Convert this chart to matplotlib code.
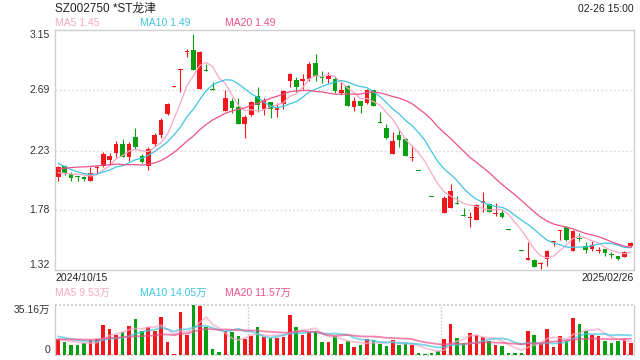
import matplotlib
matplotlib.use("Agg")
import matplotlib.pyplot as plt
import matplotlib.transforms as mtransforms
import numpy as np

plt.rcParams['font.family'] = ['Liberation Sans', 'Noto Sans CJK SC', 'DejaVu Sans']

title = "SZ002750 *ST龙津"
stamp = "02-26 15:00"
first_date = "2024/10/15"
last_date = "2025/02/26"
price_ticks = [3.15, 2.69, 2.23, 1.78, 1.32]
price_labels = ["3.15", "2.69", "2.23", "1.78", "1.32"]
vol_max = 35.16
vol_labels = ["35.16万", "0"]
ma_labels = ["MA5 1.45", "MA10 1.49", "MA20 1.49"]
vol_ma_labels = ["MA5 9.53万", "MA10 14.05万", "MA20 11.57万"]

# daily candles, 2024/10/15 .. 2025/02/26
opens = [2.032, 2.113, 2.049, 2.039, 2.027, 2.001, 2.095, 2.113, 2.159, 2.215,
         2.278, 2.182, 2.332, 2.189, 2.116, 2.278, 2.349, 2.507, 2.718, 2.846,
         2.985, 2.998, 2.702, 2.840, 2.700, 2.562, 2.532, 2.609, 2.560, 2.436,
         2.504, 2.644, 2.548, 2.601, 2.543, 2.583, 2.761, 2.766, 2.764, 2.779,
         2.898, 2.792, 2.776, 2.774, 2.667, 2.723, 2.565, 2.609, 2.596, 2.693,
         2.445, 2.403, 2.207, 2.349, 2.316, 2.177, 2.078, 1.974, 1.877, 1.784,
         1.757, 1.795, 1.830, 1.740, 1.719, 1.701, 1.833, 1.826, 1.750, 1.757,
         1.630, 1.548, 1.470, 1.397, 1.400, 1.362, 1.404, 1.531, 1.618, 1.650,
         1.467, 1.558, 1.503, 1.478, 1.465, 1.478, 1.437, 1.427, 1.417, 1.505]
highs = [2.113, 2.121, 2.070, 2.039, 2.037, 2.108, 2.121, 2.217, 2.210, 2.304,
         2.319, 2.299, 2.400, 2.205, 2.255, 2.362, 2.479, 2.593, 2.726, 2.853,
         3.003, 3.120, 2.990, 2.891, 2.756, 2.562, 2.693, 2.631, 2.629, 2.499,
         2.609, 2.718, 2.629, 2.601, 2.591, 2.693, 2.825, 2.789, 2.812, 2.903,
         2.967, 2.840, 2.827, 2.794, 2.756, 2.731, 2.642, 2.609, 2.700, 2.693,
         2.527, 2.431, 2.375, 2.395, 2.324, 2.273, 2.078, 1.974, 1.877, 1.784,
         1.884, 1.973, 1.887, 1.790, 1.760, 1.823, 1.912, 1.833, 1.833, 1.783,
         1.630, 1.548, 1.470, 1.536, 1.405, 1.380, 1.473, 1.540, 1.626, 1.655,
         1.625, 1.600, 1.536, 1.544, 1.493, 1.483, 1.455, 1.427, 1.467, 1.533]
lows = [2.001, 2.044, 2.001, 2.001, 2.001, 2.001, 2.052, 2.103, 2.128, 2.182,
        2.179, 2.154, 2.240, 2.138, 2.083, 2.268, 2.324, 2.499, 2.714, 2.680,
        2.942, 2.844, 2.702, 2.837, 2.695, 2.560, 2.532, 2.515, 2.431, 2.324,
        2.494, 2.522, 2.502, 2.482, 2.489, 2.550, 2.713, 2.680, 2.698, 2.764,
        2.761, 2.748, 2.743, 2.667, 2.662, 2.570, 2.532, 2.515, 2.586, 2.573,
        2.444, 2.321, 2.202, 2.260, 2.192, 2.154, 2.076, 1.972, 1.875, 1.782,
        1.757, 1.795, 1.826, 1.735, 1.650, 1.701, 1.765, 1.765, 1.734, 1.714,
        1.628, 1.546, 1.468, 1.397, 1.340, 1.330, 1.350, 1.503, 1.549, 1.544,
        1.467, 1.544, 1.452, 1.467, 1.452, 1.427, 1.411, 1.399, 1.417, 1.498]
closes = [2.103, 2.057, 2.019, 2.032, 2.011, 2.062, 2.108, 2.202, 2.189, 2.278,
          2.184, 2.281, 2.260, 2.146, 2.243, 2.347, 2.464, 2.586, 2.723, 2.853,
          2.993, 2.844, 2.986, 2.837, 2.695, 2.560, 2.631, 2.555, 2.436, 2.487,
          2.601, 2.576, 2.614, 2.545, 2.558, 2.685, 2.817, 2.715, 2.776, 2.893,
          2.802, 2.787, 2.799, 2.685, 2.693, 2.570, 2.609, 2.573, 2.693, 2.573,
          2.444, 2.329, 2.304, 2.311, 2.192, 2.185, 2.076, 1.972, 1.875, 1.782,
          1.871, 1.922, 1.826, 1.735, 1.724, 1.816, 1.846, 1.765, 1.755, 1.722,
          1.628, 1.546, 1.468, 1.410, 1.345, 1.372, 1.467, 1.539, 1.625, 1.549,
          1.617, 1.556, 1.472, 1.511, 1.473, 1.452, 1.434, 1.401, 1.460, 1.528]
# volume, 万手
volumes = [11.1, 9.3, 6.9, 6.9, 8.1, 10.4, 11.1, 20.8, 18.0, 13.9,
           16.2, 20.1, 25.0, 16.7, 19.7, 16.7, 26.4, 9.3, 0.7, 30.5,
           13.9, 35.16, 34.2, 19.4, 4.2, 2.3, 16.7, 16.2, 13.2, 11.1,
           13.2, 19.4, 12.7, 12.0, 12.3, 12.5, 27.8, 19.4, 13.9, 16.2,
           16.7, 9.3, 9.3, 13.2, 7.6, 10.0, 5.6, 6.9, 11.1, 10.4,
           7.9, 6.5, 10.4, 6.9, 8.1, 6.9, 1.4, 0.7, 1.4, 2.8,
           11.1, 21.5, 11.8, 8.1, 15.3, 13.9, 13.0, 9.7, 6.9, 6.2,
           1.4, 1.4, 1.4, 16.7, 13.9, 8.1, 18.0, 5.6, 13.2, 9.7,
           25.7, 21.5, 16.9, 13.9, 13.2, 10.0, 8.3, 9.7, 11.1, 8.3]
# sessions before the window, needed for the moving averages
pre_close = [1.90, 1.92, 1.95, 1.98, 2.00, 2.03, 2.08, 2.12, 2.18, 2.27,
             2.30, 2.25, 2.20, 2.15, 2.12, 2.08, 2.05, 2.04, 2.037]
pre_vol = [8, 9, 7, 10, 12, 9, 8, 10, 8, 9,
           18, 16, 15, 14, 12, 12, 11, 10, 11]

RED = '#f2171b'
GREEN = '#0a9e12'
MA_COLORS = ['#f7a8c6', '#3fc5e2', '#ec5288']
GRID = '#dedede'
FRAME = '#cfcfcf'


def moving_avg(pre, vals, n):
    full = np.array(pre + vals, dtype=float)
    out = np.convolve(full, np.ones(n) / n, mode='valid')
    return out[-len(vals):]


n = len(closes)
x = np.arange(n)
o = np.array(opens)
c = np.array(closes)
up = c >= o
colors = [RED if u else GREEN for u in up]

W, H = 640, 360
fig = plt.figure(figsize=(W / 100, H / 100), dpi=100)
ax = fig.add_axes([55 / W, 1 - 270 / H, 579 / W, 240 / H])
axv = fig.add_axes([55 / W, 1 - 355 / H, 579 / W, 50 / H])

# price panel
body_lo = np.minimum(o, c)
body_h = np.maximum(np.abs(c - o), 0.006)
ax.vlines(x, lows, highs, color=colors, linewidth=0.8, zorder=3)
ax.bar(x, body_h, bottom=body_lo, width=0.72, color=colors, linewidth=0, zorder=4)
for per, col in zip([5, 10, 20], MA_COLORS):
    ax.plot(x, moving_avg(pre_close, closes, per), color=col, linewidth=0.9, zorder=5)

ax.set_xlim(-0.5, n - 0.5)
ax.set_ylim(price_ticks[-1], price_ticks[0])
for v in price_ticks[1:-1]:
    ax.axhline(v, color=GRID, linewidth=1, linestyle=(0, (1.5, 1.5)), zorder=1)
ax.set_xticks([])
ax.set_yticks([])
for s in ax.spines.values():
    s.set_color(FRAME)
    s.set_linewidth(1)

trans = mtransforms.blended_transform_factory(ax.transAxes, ax.transData)
vas = ['top', 'center', 'center', 'center', 'bottom']
for v, lab, va in zip(price_ticks, price_labels, vas):
    ax.text(-5 / 579, v, lab, transform=trans, ha='right', va=va,
            fontsize=7.5, color='#333333')

# volume panel
axv.bar(x, volumes, width=0.56, color=colors, linewidth=0, zorder=2)
for per, col in zip([5, 10, 20], MA_COLORS):
    axv.plot(x, moving_avg(pre_vol, volumes, per), color=col, linewidth=1.3,
             alpha=0.7, zorder=3)
axv.set_xlim(-0.5, n - 0.5)
axv.set_ylim(0, vol_max)
axv.set_xticks([])
axv.set_yticks([])
for side in ['top', 'bottom']:
    axv.spines[side].set_visible(False)
for side in ['left', 'right']:
    axv.spines[side].set_color(FRAME)
    axv.spines[side].set_linewidth(1)
for v in [0, vol_max]:
    axv.axhline(v, color='#c8c8c8', linewidth=1.2, linestyle=(0, (1.2, 1.2)),
                zorder=1, clip_on=False)
for xv in [n / 3 - 0.5, 2 * n / 3 - 0.5]:
    axv.axvline(xv, color='#cccccc', linewidth=1, linestyle=(0, (1.2, 1.2)), zorder=1)
transv = mtransforms.blended_transform_factory(axv.transAxes, axv.transData)
axv.text(-5 / 579, vol_max, vol_labels[0], transform=transv, ha='right', va='top',
         fontsize=7.5, color='#333333')
axv.text(-5 / 579, 0, vol_labels[1], transform=transv, ha='right', va='bottom',
         fontsize=7.5, color='#333333')

# header and labels
fig.text(55 / W, 1 - 9 / H, title, ha='left', va='center', fontsize=8.5, color='#222222')
fig.text(634 / W, 1 - 9 / H, stamp, ha='right', va='center', fontsize=7.5, color='#222222')
for i, (lab, col) in enumerate(zip(ma_labels, MA_COLORS)):
    fig.text((55 + 85 * i) / W, 1 - 23 / H, lab, ha='left', va='center',
             fontsize=7.5, color=col)
for i, (lab, col) in enumerate(zip(vol_ma_labels, MA_COLORS)):
    fig.text((55 + 85 * i) / W, 1 - 293 / H, lab, ha='left', va='center',
             fontsize=7.5, color=col)
fig.text(55 / W, 1 - 278 / H, first_date, ha='left', va='center', fontsize=7.5, color='#222222')
fig.text(634 / W, 1 - 278 / H, last_date, ha='right', va='center', fontsize=7.5, color='#222222')

fig.savefig("out.png", dpi=100)
